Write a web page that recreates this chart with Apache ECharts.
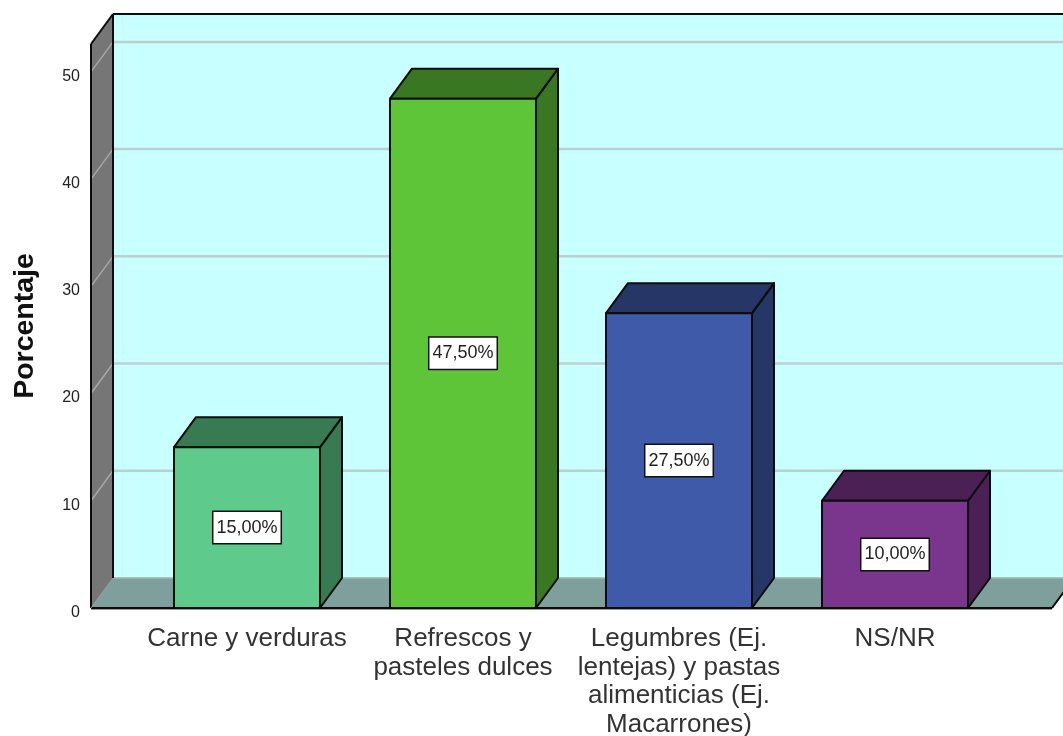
<!DOCTYPE html>
<html>
<head>
<meta charset="utf-8">
<style>html,body{margin:0;padding:0;background:#fff}#chart{width:1063px;height:736px}</style>
<script src="https://cdn.jsdelivr.net/npm/echarts@6/dist/echarts.min.js"></script>
</head>
<body>
<div id="chart"></div>
<script>
// Food preference percentages, one bar per answer
const categories = ['Carne y verduras', 'Refrescos y\npasteles dulces', 'Legumbres (Ej.\nlentejas) y pastas\nalimenticias (Ej.\nMacarrones)', 'NS/NR'];
const percentages = [15, 47.5, 27.5, 10];
const percentLabels = ['15,00%', '47,50%', '27,50%', '10,00%'];
const frontColors = ['#5ECB8C', '#5EC538', '#3F5AA8', '#7A358C'];
const sideColors = ['#387B53', '#3A7722', '#263666', '#4B2155'];
const yTicks = [10, 20, 30, 40, 50];
const yMax = 52.6;

// Pseudo-3D depth of the box, in pixels
const DEPTH_X = 22;
const DEPTH_Y = -30;
const EDGE = '#0c0c0c';
const FONT = '"Liberation Sans", Arial, sans-serif';

function poly(points, fill, stroke, lineWidth) {
  return {
    type: 'polygon',
    shape: { points },
    style: { fill, stroke: stroke || null, lineWidth: lineWidth || 0, lineJoin: 'round' }
  };
}

function line(x1, y1, x2, y2, stroke, lineWidth) {
  return {
    type: 'line',
    shape: { x1, y1, x2, y2 },
    style: { stroke, lineWidth }
  };
}

// Side wall, back wall, floor and grid lines of the box
function renderRoom(params, api) {
  const cs = params.coordSys;
  const left = cs.x - 48;
  const right = cs.x + cs.width + 49;
  const bottom = cs.y + cs.height;
  const top = cs.y;
  const dx = DEPTH_X, dy = DEPTH_Y;
  const children = [
    poly([[left + dx, top + dy], [right + dx, top + dy], [right + dx, bottom + dy], [left + dx, bottom + dy]], '#C8FFFF'),
    poly([[left, bottom], [left + dx, bottom + dy], [right + dx, bottom + dy], [right, bottom]], '#7F9F9C'),
    poly([[left, top], [left + dx, top + dy], [left + dx, bottom + dy], [left, bottom]], '#767676')
  ];
  yTicks.forEach(function (t) {
    const y = api.coord([0, t])[1];
    children.push(line(left + dx, y + dy, right + dx, y + dy, '#BCCFCF', 2.5));
    children.push(line(left, y, left + dx, y + dy, '#A6A6A6', 1.5));
  });
  children.push(line(left + dx, bottom + dy, right + dx, bottom + dy, '#9DB5B2', 1.5));
  children.push(line(left, top, left + dx, top + dy, EDGE, 2));
  children.push(line(left + dx, top + dy, right + dx, top + dy, EDGE, 2));
  children.push(line(left, top, left, bottom, EDGE, 2));
  children.push(line(left + dx, top + dy, left + dx, bottom + dy, EDGE, 2));
  children.push(line(left, bottom + 1, right, bottom + 1, '#9a9a9a', 2));
  children.push(line(left, bottom, right, bottom, EDGE, 2));
  children.push(line(left, bottom, left + dx, bottom + dy, '#9a9a9a', 1));
  children.push(line(right, bottom, right + dx, bottom + dy, EDGE, 2));
  return { type: 'group', children };
}

// One extruded bar with its value tag on the front face
function renderBar(params, api) {
  const i = api.value(0);
  const base = api.coord([i, 0]);
  const head = api.coord([i, api.value(1)]);
  const w = api.size([1, 0])[0] * 0.676;
  const l = base[0] - w / 2, r = base[0] + w / 2;
  const t = head[1], b = base[1];
  const dx = DEPTH_X, dy = DEPTH_Y;
  return {
    type: 'group',
    children: [
      poly([[r, t], [r + dx, t + dy], [r + dx, b + dy], [r, b]], sideColors[i], EDGE, 2),
      poly([[l, t], [l + dx, t + dy], [r + dx, t + dy], [r, t]], sideColors[i], EDGE, 2),
      poly([[l, t], [r, t], [r, b], [l, b]], frontColors[i], EDGE, 2),
      {
        type: 'text',
        x: base[0],
        y: (t + b) / 2,
        style: {
          text: percentLabels[i],
          fontFamily: FONT,
          fontSize: 18,
          fill: '#222',
          align: 'center',
          verticalAlign: 'middle',
          backgroundColor: '#fff',
          borderColor: '#111',
          borderWidth: 1.5,
          padding: [8, 3, 5, 3]
        }
      }
    ]
  };
}

const chart = echarts.init(document.getElementById('chart'), null, { renderer: 'canvas' });
chart.setOption({
  animation: false,
  backgroundColor: '#fff',
  grid: { left: 139, top: 44, width: 864, bottom: 128, containLabel: false, outerBoundsMode: 'none' },
  xAxis: {
    type: 'category',
    data: categories,
    axisLine: { show: false },
    axisTick: { show: false },
    axisLabel: {
      interval: 0,
      margin: 17,
      fontFamily: FONT,
      fontSize: 26,
      lineHeight: 28.5,
      color: '#333',
      hideOverlap: false
    }
  },
  yAxis: {
    type: 'value',
    min: 0,
    max: yMax,
    interval: 10,
    offset: 48,
    name: 'Porcentaje',
    nameLocation: 'middle',
    nameGap: 51,
    nameTextStyle: { fontFamily: FONT, fontSize: 28.5, fontWeight: 'bold', color: '#111' },
    axisLine: { show: false },
    axisTick: { show: false },
    splitLine: { show: false },
    axisLabel: {
      margin: 11,
      fontFamily: FONT,
      fontSize: 16,
      color: '#222',
      verticalAlign: 'top',
      lineHeight: 9,
      showMaxLabel: false
    }
  },
  series: [
    { type: 'custom', renderItem: renderRoom, data: [[0, 0]], silent: true, z: 1, clip: false },
    { type: 'custom', renderItem: renderBar, data: percentages.map((v, i) => [i, v]), z: 2, clip: false }
  ]
});
</script>
</body>
</html>
